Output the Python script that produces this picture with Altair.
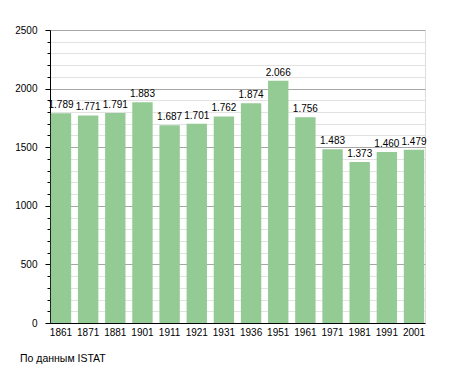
import altair as alt
import pandas as pd

years = ["1861", "1871", "1881", "1901", "1911", "1921", "1931", "1936", "1951", "1961", "1971", "1981", "1991", "2001"]
population = [1789, 1771, 1791, 1883, 1687, 1701, 1762, 1874, 2066, 1756, 1483, 1373, 1460, 1479]
labels = ["1.789", "1.771", "1.791", "1.883", "1.687", "1.701", "1.762", "1.874", "2.066", "1.756", "1.483", "1.373", "1.460", "1.479"]
major_ticks = [0, 500, 1000, 1500, 2000, 2500]
minor_ticks = [v for v in range(0, 2501, 100) if v % 500 != 0]
source_note = "По данным  ISTAT"

df = pd.DataFrame({"year": years, "pop": population, "label": labels})

FONT = "Liberation Sans"

x_scale = alt.Scale(paddingInner=0.25, paddingOuter=0.03)
y_scale = alt.Scale(domain=[0, 2500], nice=False)

bars = alt.Chart(df).mark_bar(color="#94CA94").encode(
    x=alt.X("year:N", sort=years, scale=x_scale,
            axis=alt.Axis(title=None, labelAngle=0, ticks=False, domainColor="black",
                          labelFont=FONT, labelFontSize=10, labelColor="black",
                          labelPadding=4, grid=False)),
    y=alt.Y("pop:Q", scale=y_scale,
            axis=alt.Axis(title=None, values=major_ticks, orient="left", format="d",
                          grid=True, gridColor="#a6a6a6", gridWidth=1,
                          tickSize=5, tickColor="black", domainColor="black",
                          labelFont=FONT, labelFontSize=10, labelColor="black",
                          labelPadding=8)),
)

minor = alt.Chart(df).mark_bar(opacity=0).encode(
    x=alt.X("year:N", sort=years),
    y=alt.Y("pop:Q", scale=y_scale,
            axis=alt.Axis(title=None, values=minor_ticks, orient="left",
                          grid=True, gridColor="#e2e2e2", gridWidth=1,
                          tickSize=3, tickColor="black", labels=False, domain=False)),
)

text = alt.Chart(df).mark_text(baseline="bottom", dy=-3, font=FONT, fontSize=10, color="black").encode(
    x=alt.X("year:N", sort=years),
    y=alt.Y("pop:Q", scale=y_scale, axis=None),
    text="label:N",
)

chart = alt.layer(bars, minor, text).resolve_axis(y="independent").properties(
    width=375, height=293,
    autosize=alt.AutoSizeParams(type="none"),
    padding={"left": 42, "top": 22, "right": 22, "bottom": 42},
    title=alt.TitleParams(source_note, orient="bottom", anchor="start", frame="group",
                          dx=-30, offset=17,
                          font=FONT, fontSize=10.5, fontWeight="normal", color="black"),
).configure_view(stroke=None).configure(background="white")

chart.save("out.html", embed_options={"renderer": "svg", "actions": False})
